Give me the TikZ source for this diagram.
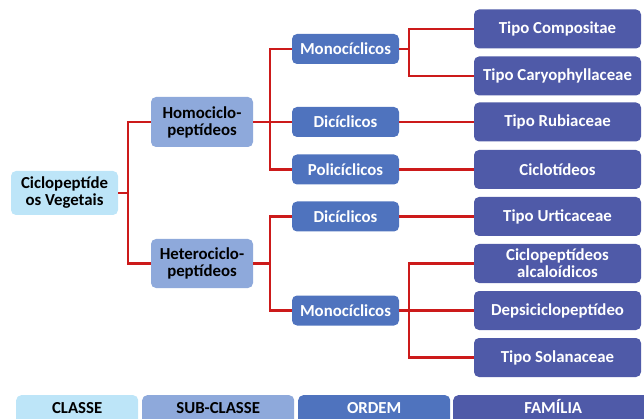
\documentclass[tikz,border=0pt]{standalone}
\usepackage{fontspec}
\setmainfont{Carlito}
\definecolor{classe}{HTML}{BDE5F8}
\definecolor{subclasse}{HTML}{8EA9DB}
\definecolor{ordem}{HTML}{4F73BE}
\definecolor{familia}{HTML}{4F5AA8}
\definecolor{linkred}{HTML}{CC1A1A}
\begin{document}
\begin{tikzpicture}[x=1pt, y=-1pt,
    box/.style={rounded corners=5pt, align=center, inner sep=0pt,
      font=\fontsize{16.8}{17}\selectfont\bfseries},
    classebox/.style={box, fill=classe, text=black},
    subbox/.style={box, fill=subclasse, text=black, minimum width=102pt},
    ordembox/.style={box, fill=ordem, text=white, minimum width=107pt, minimum height=30pt},
    famibox/.style={box, fill=familia, text=white, minimum width=167pt, minimum height=39pt},
    legend/.style={anchor=north west, minimum height=30pt, text height=10pt, text depth=3pt},
    link/.style={linkred, line width=2.2pt}]
  \clip (0,0) rectangle (644,419);

  % classe
  \node[classebox, minimum width=107pt, minimum height=44pt] (root) at (64.5,193) {Ciclopeptíde\\os Vegetais};

  % sub-classe
  \node[subbox, minimum height=50pt] (homo)   at (202,122) {Homociclo-\\peptídeos};
  \node[subbox, minimum height=49pt] (hetero) at (202,263.5) {Heterociclo-\\peptídeos};

  % ordem
  \node[ordembox] (mono1) at (345.5,49)  {Monocíclicos};
  \node[ordembox] (dic1)  at (345.5,122) {Dicíclicos};
  \node[ordembox] (poli)  at (345.5,169.5) {Policíclicos};
  \node[ordembox] (dic2)  at (345.5,216.5) {Dicíclicos};
  \node[ordembox] (mono2) at (345.5,310.5) {Monocíclicos};

  % familia
  \node[famibox] (comp)   at (557.5,29)    {Tipo Compositae};
  \node[famibox] (cary)   at (557.5,76)    {Tipo Caryophyllaceae};
  \node[famibox] (rub)    at (557.5,122)   {Tipo Rubiaceae};
  \node[famibox] (ciclot) at (557.5,169.5) {Ciclotídeos};
  \node[famibox] (urt)    at (557.5,216.5) {Tipo Urticaceae};
  \node[famibox] (alc)    at (557.5,263.5) {Ciclopeptídeos\\alcaloídicos};
  \node[famibox] (deps)   at (557.5,310.5) {Depsiciclopeptídeo};
  \node[famibox] (sol)    at (557.5,357.5) {Tipo Solanaceae};

  % ligacoes
  \draw[link] (root.east) -- ++(10,0) coordinate (b0) |- (homo.west);
  \draw[link] (b0) |- (hetero.west);

  \draw[link] (homo.east) -- ++(17,0) coordinate (b1) |- (mono1.west);
  \draw[link] (b1) |- (poli.west);
  \draw[link] (homo.east) -- (dic1.west);

  \draw[link] (hetero.east) -- ++(17,0) coordinate (b2) |- (dic2.west);
  \draw[link] (b2) |- (mono2.west);

  \draw[link] (mono1.east) -- ++(10,0) coordinate (b3) |- (comp.west);
  \draw[link] (b3) |- (cary.west);
  \draw[link] (dic1.east) -- (rub.west);
  \draw[link] (poli.east) -- (ciclot.west);
  \draw[link] (dic2.east) -- (urt.west);

  \draw[link] (mono2.east) -- ++(10,0) coordinate (b4) |- (alc.west);
  \draw[link] (b4) |- (sol.west);
  \draw[link] (mono2.east) -- (deps.west);

  % legenda
  \node[classebox, legend, minimum width=122pt] (lclasse)  at (16,395)  {CLASSE};
  \node[subbox,    legend, minimum width=152pt] (lsub)     at (142,395) {SUB-CLASSE};
  \node[ordembox,  legend, minimum width=152pt] (lordem)   at (298,395) {ORDEM};
  \node[famibox,   legend, minimum width=200pt] (lfamilia) at (453,395) {FAMÍLIA};
\end{tikzpicture}
\end{document}
